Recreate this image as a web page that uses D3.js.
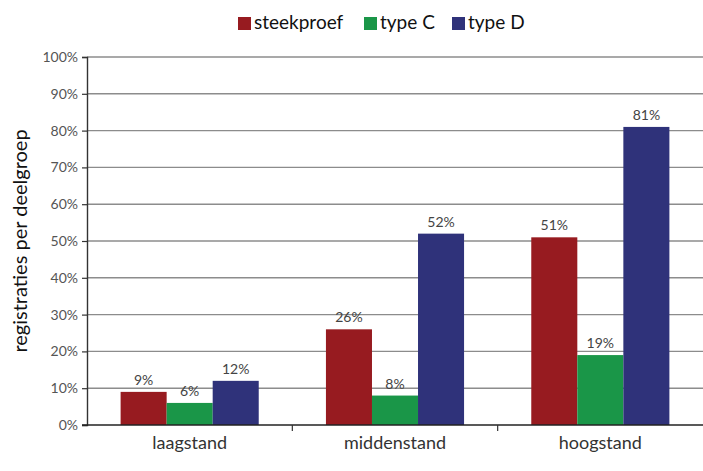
<!DOCTYPE html>
<html>
<head>
<meta charset="utf-8">
<script src="https://cdn.jsdelivr.net/npm/d3@7"></script>
<style>
  html, body { margin: 0; padding: 0; background: #fff; }
  svg { display: block; font-family: Lato, "Open Sans", sans-serif; }
</style>
</head>
<body>
<svg id="chart" width="703" height="471"></svg>
<script>
// Data
const categories = ["laagstand", "middenstand", "hoogstand"];
const seriesNames = ["steekproef", "type C", "type D"];
const steekproef = [9, 26, 51];
const typeC = [6, 8, 19];
const typeD = [12, 52, 81];
const yTicks = [0, 10, 20, 30, 40, 50, 60, 70, 80, 90, 100];
const colors = ["#971b20", "#1a9648", "#2f327a"];

const seriesValues = [steekproef, typeC, typeD];

const svg = d3.select("#chart");
const margin = { left: 87, right: 0, top: 57, bottom: 46 };
const W = 703, H = 471;

const x = d3.scaleBand()
  .domain(categories)
  .range([margin.left, W - margin.right])
  .paddingInner(0)
  .paddingOuter(0);

const inner = d3.scaleBand()
  .domain(seriesNames)
  .range([0, x.bandwidth()])
  .paddingOuter(0.73)
  .paddingInner(0);

const y = d3.scaleLinear()
  .domain([0, 100])
  .range([H - margin.bottom, margin.top]);

// Horizontal gridlines
svg.append("g")
  .selectAll("line")
  .data(yTicks.filter(d => d > 0))
  .join("line")
  .attr("x1", margin.left)
  .attr("x2", W)
  .attr("y1", d => y(d))
  .attr("y2", d => y(d))
  .attr("stroke", "#8c8c8c")
  .attr("stroke-width", 1.4);

// Bars
const groups = svg.append("g")
  .selectAll("g")
  .data(categories)
  .join("g")
  .attr("transform", d => `translate(${x(d)},0)`);

groups.selectAll("rect")
  .data((c, i) => seriesNames.map((s, j) => ({ s, v: seriesValues[j][i], j })))
  .join("rect")
  .attr("x", d => inner(d.s))
  .attr("width", inner.bandwidth())
  .attr("y", d => y(d.v))
  .attr("height", d => y(0) - y(d.v))
  .attr("fill", d => colors[d.j]);

// Value labels
groups.selectAll("text")
  .data((c, i) => seriesNames.map((s, j) => ({ s, v: seriesValues[j][i], j })))
  .join("text")
  .attr("x", d => inner(d.s) + inner.bandwidth() / 2)
  .attr("y", d => y(d.v) - 7)
  .attr("text-anchor", "middle")
  .attr("font-size", 14)
  .attr("fill", "#444")
  .text(d => d.v + "%");

// Y axis
const yAxis = d3.axisLeft(y)
  .tickValues(yTicks)
  .tickSize(5)
  .tickFormat(d => d + "%");
const yg = svg.append("g")
  .attr("transform", `translate(${margin.left},0)`)
  .call(yAxis);
yg.select(".domain").attr("stroke", "#333").attr("stroke-width", 1.4);
yg.selectAll(".tick line").attr("stroke", "#333").attr("stroke-width", 1.2);
yg.selectAll(".tick text")
  .attr("font-family", "Lato, 'Open Sans', sans-serif")
  .attr("font-size", 14)
  .attr("fill", "#555")
  .attr("x", -9);

// X axis baseline and category separators
const xg = svg.append("g");
xg.append("line")
  .attr("x1", margin.left - 5)
  .attr("x2", W)
  .attr("y1", y(0))
  .attr("y2", y(0))
  .attr("stroke", "#222")
  .attr("stroke-width", 1.6);
xg.selectAll("line.sep")
  .data(categories.slice(1))
  .join("line")
  .attr("class", "sep")
  .attr("x1", d => x(d))
  .attr("x2", d => x(d))
  .attr("y1", y(0))
  .attr("y2", y(0) + 6)
  .attr("stroke", "#333")
  .attr("stroke-width", 1.2);
xg.selectAll("text")
  .data(categories)
  .join("text")
  .attr("x", d => x(d) + x.bandwidth() / 2)
  .attr("y", y(0) + 24)
  .attr("text-anchor", "middle")
  .attr("font-size", 18)
  .attr("fill", "#333")
  .text(d => d);

// Y axis title
svg.append("text")
  .attr("transform", `translate(27,${(y(0) + y(100)) / 2}) rotate(-90)`)
  .attr("text-anchor", "middle")
  .attr("font-size", 20)
  .attr("fill", "#111")
  .text("registraties per deelgroep");

// Legend
const legendItems = [
  { name: seriesNames[0], x: 238 },
  { name: seriesNames[1], x: 364 },
  { name: seriesNames[2], x: 452 }
];
const lg = svg.append("g");
legendItems.forEach((it, i) => {
  lg.append("rect")
    .attr("x", it.x)
    .attr("y", 17)
    .attr("width", 13)
    .attr("height", 13)
    .attr("fill", colors[i]);
  lg.append("text")
    .attr("x", it.x + 16)
    .attr("y", 29)
    .attr("font-size", 19)
    .attr("fill", "#111")
    .text(it.name);
});
</script>
</body>
</html>
